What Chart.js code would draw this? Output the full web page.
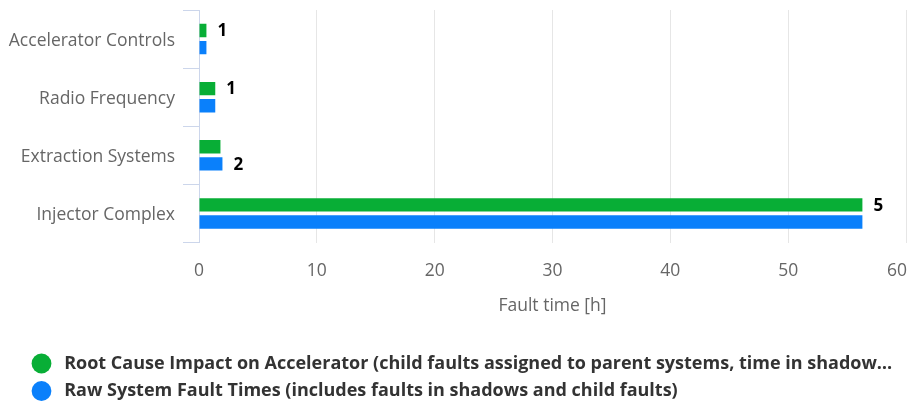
<!DOCTYPE html>
<html>
<head>
<meta charset="utf-8">
<script src="https://cdn.jsdelivr.net/npm/chart.js@4/dist/chart.umd.min.js"></script>
<style>
  html, body { margin: 0; padding: 0; background: #fff; }
  #wrap { width: 907px; height: 403px; }
</style>
</head>
<body>
<div id="wrap"><canvas id="faultChart"></canvas></div>
<script>
const systems = ['Accelerator Controls', 'Radio Frequency', 'Extraction Systems', 'Injector Complex']
const rootCauseHours = [0.63, 1.38, 1.82, 56.3]
const rawFaultHours = [0.63, 1.38, 1.99, 56.3]
const faultCounts = [1, 1, 2, 5]
const seriesNames = [
  'Root Cause Impact on Accelerator (child faults assigned to parent systems, time in shadow…',
  'Raw System Fault Times (includes faults in shadows and child faults)'
]
const xTicks = [0, 10, 20, 30, 40, 50, 60]

Chart.defaults.font.family = "'Open Sans', sans-serif"

// fault count next to the longer bar of each system
const countLabels = {
  id: 'countLabels',
  afterDatasetsDraw(chart) {
    const ctx = chart.ctx
    ctx.save()
    ctx.font = "bold 17px 'Open Sans', sans-serif"
    ctx.textBaseline = 'middle'
    ctx.lineWidth = 3
    ctx.strokeStyle = 'rgba(255,255,255,0.8)'
    ctx.fillStyle = '#000'
    faultCounts.forEach((count, i) => {
      const pick = rawFaultHours[i] > rootCauseHours[i] ? 1 : 0
      const bar = chart.getDatasetMeta(pick).data[i]
      ctx.strokeText(String(count), bar.x + 11, bar.y + 1)
      ctx.fillText(String(count), bar.x + 11, bar.y + 1)
    })
    ctx.restore()
  }
}

// put the legend where the original has it
const legendPlacement = {
  id: 'legendPlacement',
  afterLayout(chart) {
    chart.legend.left = 23
    chart.legend.top = 345
  }
}

new Chart(document.getElementById('faultChart'), {
  type: 'bar',
  data: {
    labels: systems,
    datasets: [
      { label: seriesNames[0], data: rootCauseHours, backgroundColor: '#08ae36' },
      { label: seriesNames[1], data: rawFaultHours, backgroundColor: '#0a80fb' }
    ]
  },
  options: {
    indexAxis: 'y',
    responsive: true,
    maintainAspectRatio: false,
    animation: false,
    categoryPercentage: 0.59,
    barPercentage: 0.78,
    layout: { padding: { left: 4, right: 1, top: 10, bottom: 0 } },
    plugins: {
      tooltip: { enabled: false },
      legend: {
        position: 'bottom',
        align: 'start',
        labels: {
          usePointStyle: true,
          pointStyle: 'circle',
          boxWidth: 18,
          boxHeight: 14,
          padding: 9.5,
          color: '#333',
          font: { size: 18, weight: 'bold' },
          generateLabels(chart) {
            return Chart.defaults.plugins.legend.labels.generateLabels(chart)
              .map(item => ({ ...item, text: ' ' + item.text }))
          }
        }
      }
    },
    scales: {
      y: {
        grid: { drawOnChartArea: false, drawTicks: true, tickLength: 16, color: '#ccd6eb', offset: true },
        border: { color: '#ccd6eb' },
        ticks: { color: '#666', font: { size: 17.5 }, padding: 8, labelOffset: 1.5 },
        afterFit(scale) {
          scale.width = 195
          scale.paddingTop = 0
          scale.paddingBottom = 0
        }
      },
      x: {
        min: 0,
        max: 60,
        grid: { color: '#e6e6e6', drawTicks: false },
        border: { display: false },
        ticks: {
          color: '#666',
          font: { size: 17.5 },
          padding: 18,
          // last label is pulled inward like the original
          callback: (value) => value === 60 ? value + '    ' : value
        },
        afterBuildTicks(scale) { scale.ticks = xTicks.map(v => ({ value: v })) },
        afterFit(scale) {
          scale.paddingRight = 0
          scale.height = 95.5
        },
        title: {
          display: true,
          text: 'Fault time [h]',
          color: '#666',
          font: { size: 17.5 },
          padding: { top: 10, bottom: 21.5 }
        }
      }
    }
  },
  plugins: [countLabels, legendPlacement]
})
</script>
</body>
</html>
